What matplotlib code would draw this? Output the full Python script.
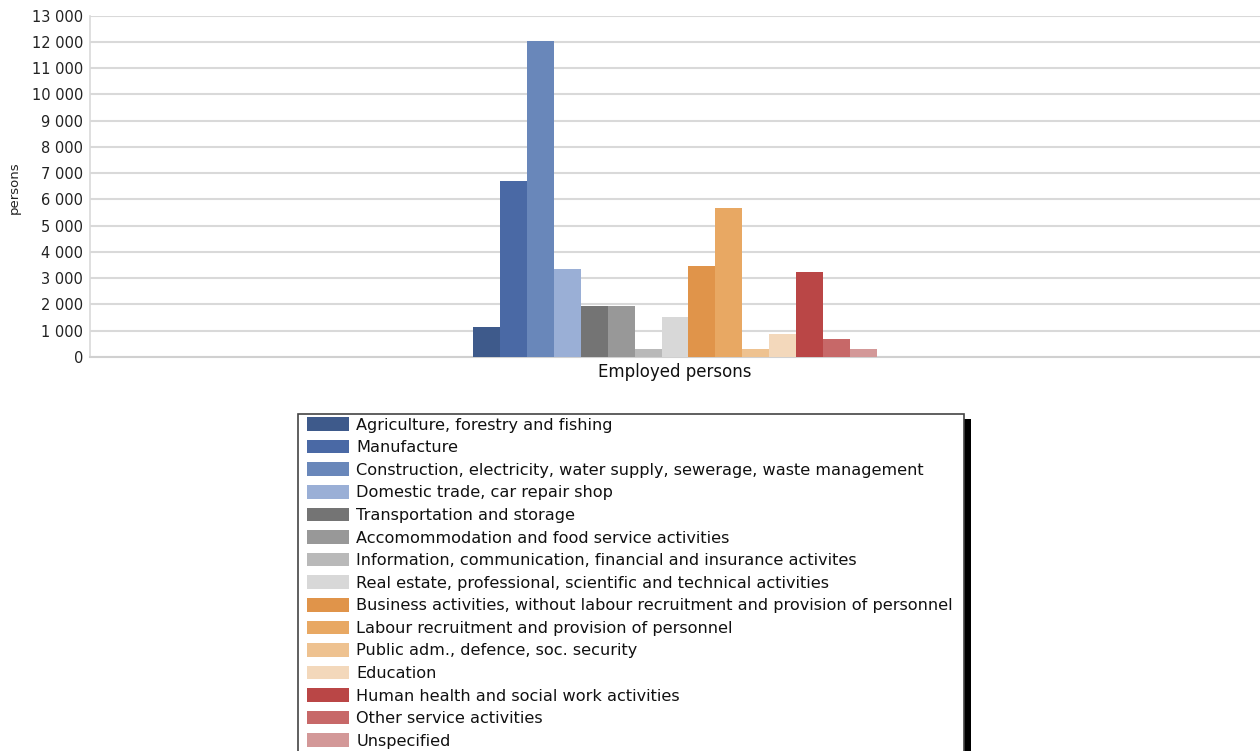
import matplotlib
matplotlib.use("Agg")
import matplotlib.pyplot as plt
from matplotlib.patches import Rectangle, Patch
from matplotlib.ticker import FuncFormatter, MultipleLocator

# Employed persons by industry
industries = [
    "Agriculture, forestry and fishing",
    "Manufacture",
    "Construction, electricity, water supply, sewerage, waste management",
    "Domestic trade, car repair shop",
    "Transportation and storage",
    "Accomommodation and food service activities",
    "Information, communication, financial and insurance activites",
    "Real estate, professional, scientific and technical activities",
    "Business activities, without labour recruitment and provision of personnel",
    "Labour recruitment and provision of personnel",
    "Public adm., defence, soc. security",
    "Education",
    "Human health and social work activities",
    "Other service activities",
    "Unspecified",
]
employed = [1150, 6700, 12050, 3370, 1950, 1950, 320, 1530,
            3470, 5660, 320, 860, 3250, 680, 290]
colors = ["#3e5a8b", "#4a69a5", "#6987ba", "#9aafd6", "#747474", "#989898",
          "#b9b9b9", "#d8d8d8", "#e0944a", "#e8a863", "#eec290", "#f3d8bb",
          "#ba4646", "#c76868", "#d39898"]
category = "Employed persons"

W, H = 1260, 751
fig = plt.figure(figsize=(W / 100, H / 100), dpi=100)
fig.patch.set_facecolor("white")

ax = fig.add_axes([90 / W, 1 - 357 / H, 1170 / W, (357 - 15.7) / H])

group_width = 0.346
bw = group_width / len(employed)
n = len(employed)
for i, (val, col) in enumerate(zip(employed, colors)):
    x = (i - (n - 1) / 2) * bw
    ax.bar(x, val, width=bw, color=col, linewidth=0, zorder=3)

ax.set_xlim(-0.5, 0.5)
ax.set_ylim(0, 13000)
ax.yaxis.set_major_locator(MultipleLocator(1000))
ax.yaxis.set_major_formatter(FuncFormatter(lambda v, p: f"{int(v):,}".replace(",", " ")))
ax.set_xticks([0])
ax.set_xticklabels([category], fontsize=12, family="DejaVu Sans", color="#111111")
ax.tick_params(axis="x", length=0, pad=4)
ax.tick_params(axis="y", length=0, pad=5, labelsize=10.5, labelcolor="#222222")

ax.grid(axis="y", color="#d9d9d9", linewidth=1.5, zorder=0)
for side in ("top", "right"):
    ax.spines[side].set_visible(False)
ax.spines["left"].set_color("#d9d9d9")
ax.spines["left"].set_linewidth(1.2)
ax.spines["bottom"].set_color("#d0d0d0")
ax.spines["bottom"].set_linewidth(1.5)

fig.text(14 / W, 1 - 188 / H, "persons", rotation=90, ha="center", va="center",
         fontsize=9.5, family="DejaVu Sans", color="#222222")

# Legend frame with a solid drop shadow on the right
bx0, bx1, by_top = 298, 964, 413.5
fig.patches.append(Rectangle((bx1 / W, 1 - 800 / H), 7 / W, (800 - by_top - 5) / H,
                             transform=fig.transFigure, facecolor="black",
                             edgecolor="none", zorder=0))
fig.patches.append(Rectangle((bx0 / W, 1 - 800 / H), (bx1 - bx0) / W, (800 - by_top) / H,
                             transform=fig.transFigure, facecolor="white",
                             edgecolor="#444444", linewidth=1.2, zorder=1))

handles = [Patch(facecolor=c, edgecolor="none") for c in colors]
leg_fs = 11.6
leg = fig.legend(handles, industries, loc="upper left",
                 bbox_to_anchor=(303.5 / W, 1 - 414 / H),
                 frameon=False, prop={"family": "DejaVu Sans", "size": leg_fs},
                 handlelength=2.65, handleheight=0.92, handletextpad=0.42,
                 labelspacing=0.45, borderpad=0.2, borderaxespad=0)
for t in leg.get_texts():
    t.set_color("#111111")
leg.set_zorder(2)

fig.savefig("out.png", dpi=100, facecolor="white")
